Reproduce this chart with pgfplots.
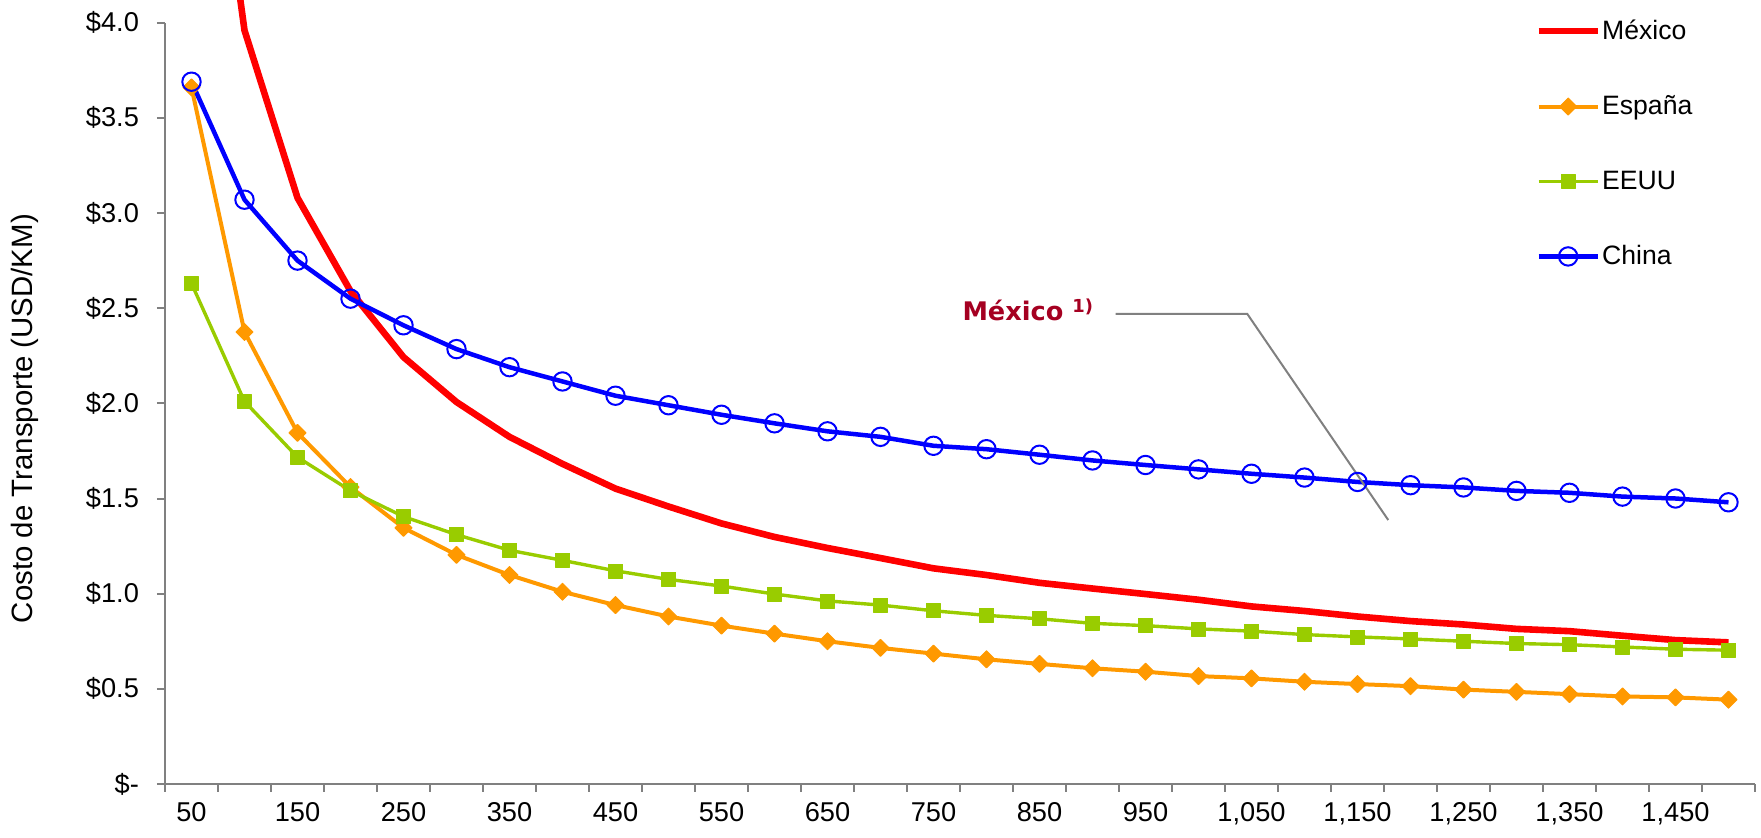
\documentclass[border=0pt]{standalone}
\usepackage{fontspec}
\setmainfont{Liberation Sans}
\newfontfamily\annotfont{DejaVu Sans}
\usepackage{pgfplots}
\usepackage{pgfplotstable}
\pgfplotsset{compat=1.18}
\definecolor{mred}{HTML}{FF0000}
\definecolor{morange}{HTML}{FF9900}
\definecolor{mgreen}{HTML}{99CC00}
\definecolor{mblue}{HTML}{0000FF}
\definecolor{annot}{HTML}{A50021}
\definecolor{axgray}{HTML}{808080}
\pgfplotstableread{
x mex esp usa chn
50 6.00 3.66 2.63 3.69
100 3.96 2.375 2.01 3.07
150 3.08 1.845 1.717 2.75
200 2.59 1.56 1.541 2.55
250 2.243 1.346 1.405 2.41
300 2.007 1.204 1.31 2.285
350 1.824 1.098 1.228 2.19
400 1.682 1.01 1.175 2.115
450 1.552 0.94 1.12 2.04
500 1.458 0.88 1.075 1.99
550 1.369 0.832 1.04 1.94
600 1.298 0.79 0.998 1.895
650 1.24 0.75 0.962 1.853
700 1.187 0.715 0.94 1.824
750 1.133 0.685 0.91 1.777
800 1.098 0.655 0.886 1.759
850 1.057 0.631 0.868 1.73
900 1.027 0.608 0.844 1.70
950 0.998 0.59 0.832 1.676
1000 0.968 0.567 0.815 1.653
1050 0.933 0.555 0.803 1.63
1100 0.909 0.537 0.785 1.61
1150 0.88 0.525 0.773 1.587
1200 0.856 0.514 0.762 1.57
1250 0.838 0.496 0.75 1.558
1300 0.815 0.484 0.738 1.54
1350 0.803 0.472 0.732 1.53
1400 0.779 0.46 0.72 1.51
1450 0.756 0.455 0.708 1.50
1500 0.744 0.443 0.703 1.48
}\data
\begin{document}
\begin{tikzpicture}
\begin{axis}[
  scale only axis, width=795pt, height=380.65pt,
  xmin=25, xmax=1525, ymin=0, ymax=4,
  enlargelimits=false, clip=false,
  axis lines=left, axis line style={-, draw=axgray, line width=1pt},
  tick align=outside, major tick length=4pt,
  tick style={draw=axgray, line width=1pt},
  xtick={25,75,...,1525}, xticklabels={},
  extra x ticks={50,150,...,1450},
  extra x tick labels={50,150,250,350,450,550,650,750,850,950,{1,050},{1,150},{1,250},{1,350},{1,450}},
  extra x tick style={major tick length=0pt},
  ytick={0,0.5,...,4},
  yticklabels={\$-,\$0.5,\$1.0,\$1.5,\$2.0,\$2.5,\$3.0,\$3.5,\$4.0},
  tick label style={font=\fontsize{13.6}{15}\selectfont},
  yticklabel style={xshift=-5.5pt},
  xticklabel style={yshift=-5.6pt},
  ylabel={Costo de Transporte (USD/KM)},
  ylabel style={font=\fontsize{14.7}{17}\selectfont, at={(axis description cs:-0.088,0.48)}, anchor=center},
  legend cell align=left,
  legend style={at={(axis description cs:0.8616,1.006)}, anchor=north west, draw=none, fill=none,
    inner sep=0pt, row sep=25.4pt, font=\fontsize{13.3}{15}\selectfont, nodes={inner sep=0.6pt}},
  legend image code/.code={\draw[mark repeat=2,mark phase=2,#1] plot coordinates {(0pt,0pt) (14.75pt,0pt) (29.5pt,0pt)};},
]
\addplot[mred, line width=3.3pt, line join=round, mark=none] table[x=x,y=mex]{\data};
\addlegendentry{México}
\addplot[morange, line width=2pt, line join=round, mark=square*, mark size=3pt, mark options={solid, rotate=45, fill=morange, draw=morange, line width=0.5pt}] table[x=x,y=esp]{\data};
\addlegendentry{España}
\addplot[mgreen, line width=1.7pt, line join=round, mark=square*, mark size=3.5pt, mark options={solid, fill=mgreen, draw=mgreen, line width=0.3pt}] table[x=x,y=usa]{\data};
\addlegendentry{EEUU}
\addplot[mblue, line width=2.25pt, line join=round, mark=o, mark size=4.6pt, mark options={solid, line width=1pt}] table[x=x,y=chn]{\data};
\addlegendentry{China}
\draw[axgray, line width=1pt] (axis cs:921.7,2.47) -- (axis cs:1046,2.47) -- (axis cs:1179,1.387);
\node[anchor=base west, inner sep=0pt, text=annot, font=\annotfont\bfseries\fontsize{12.8}{15}\selectfont] at (axis cs:777,2.433) {México \textsuperscript{1)}};
\end{axis}
\pgfresetboundingbox
\useasboundingbox (-82.5pt,-27pt) rectangle (798pt,392pt);
\end{tikzpicture}
\end{document}
